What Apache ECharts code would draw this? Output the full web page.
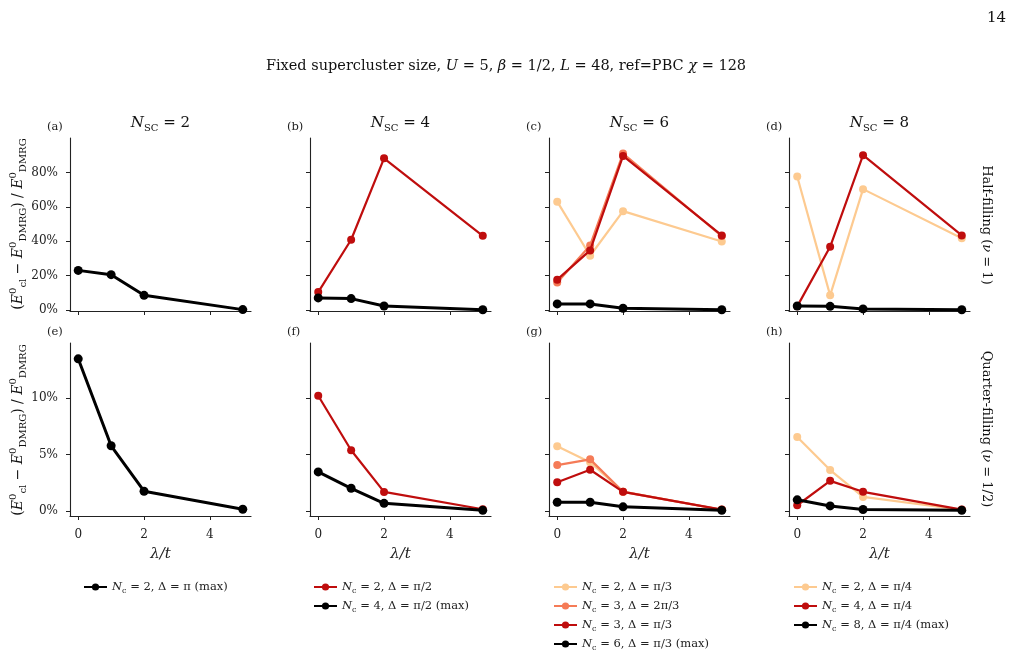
<!DOCTYPE html>
<html>
<head>
<meta charset="utf-8">
<script src="https://cdn.jsdelivr.net/npm/echarts@6/dist/echarts.min.js"></script>
<style>
  html, body { margin: 0; padding: 0; background: #fff; }
  #chart { width: 1013px; height: 657px; }
</style>
</head>
<body>
<div id="chart"></div>
<script>
// ---------------- DATA ----------------
const lambdaValues = [0, 1, 2, 5];
const xTicks = [0, 2, 4];
const yTicksHalf = [0, 20, 40, 60, 80];
const yTicksQuarter = [0, 5, 10];
const colTitleNums = ['2', '4', '6', '8'];
const panelLabels = ['(a)', '(b)', '(c)', '(d)', '(e)', '(f)', '(g)', '(h)'];

// series names per column
const namesCol1 = ['N_c = 2, Δ = π (max)'];
const namesCol2 = ['N_c = 2, Δ = π/2', 'N_c = 4, Δ = π/2 (max)'];
const namesCol3 = ['N_c = 2, Δ = π/3', 'N_c = 3, Δ = 2π/3', 'N_c = 3, Δ = π/3', 'N_c = 6, Δ = π/3 (max)'];
const namesCol4 = ['N_c = 2, Δ = π/4', 'N_c = 4, Δ = π/4', 'N_c = 8, Δ = π/4 (max)'];

// Half-filling (nu = 1), values in %
const halfA_Nc2 = [23.1, 20.6, 8.6, 0.3];
const halfB_Nc2 = [10.5, 40.9, 88.2, 43.2];
const halfB_Nc4 = [7.1, 6.7, 2.4, 0.2];
const halfC_Nc2 = [63.0, 31.6, 57.5, 39.9];
const halfC_Nc3a = [16.1, 37.6, 91.0, 43.0];
const halfC_Nc3b = [17.7, 34.7, 89.6, 43.4];
const halfC_Nc6 = [3.6, 3.6, 1.1, 0.2];
const halfD_Nc2 = [77.6, 8.6, 70.3, 41.8];
const halfD_Nc4 = [2.2, 36.8, 90.0, 43.4];
const halfD_Nc8 = [2.4, 2.2, 0.7, 0.2];

// Quarter-filling (nu = 1/2), values in %
const quarE_Nc2 = [13.45, 5.76, 1.74, 0.15];
const quarF_Nc2 = [10.18, 5.36, 1.68, 0.15];
const quarF_Nc4 = [3.45, 2.0, 0.67, 0.05];
const quarG_Nc2 = [5.71, 4.3, 1.7, 0.1];
const quarG_Nc3a = [4.05, 4.56, 1.69, 0.1];
const quarG_Nc3b = [2.54, 3.64, 1.69, 0.12];
const quarG_Nc6 = [0.77, 0.77, 0.36, 0.05];
const quarH_Nc2 = [6.54, 3.61, 1.24, 0.1];
const quarH_Nc4 = [0.5, 2.66, 1.69, 0.12];
const quarH_Nc8 = [0.98, 0.44, 0.12, 0.05];

// ---------------- STYLE ----------------
const FONT = 'DejaVu Serif';
const C_LIGHT = '#fdca90';
const C_ORANGE = '#f57b57';
const C_RED = '#bf0d0d';
const C_BLACK = '#000000';

const panels = [
  // top row
  [[namesCol1[0], C_BLACK, halfA_Nc2]],
  [[namesCol2[0], C_RED, halfB_Nc2], [namesCol2[1], C_BLACK, halfB_Nc4]],
  [[namesCol3[0], C_LIGHT, halfC_Nc2], [namesCol3[1], C_ORANGE, halfC_Nc3a], [namesCol3[2], C_RED, halfC_Nc3b], [namesCol3[3], C_BLACK, halfC_Nc6]],
  [[namesCol4[0], C_LIGHT, halfD_Nc2], [namesCol4[1], C_RED, halfD_Nc4], [namesCol4[2], C_BLACK, halfD_Nc8]],
  // bottom row
  [[namesCol1[0], C_BLACK, quarE_Nc2]],
  [[namesCol2[0], C_RED, quarF_Nc2], [namesCol2[1], C_BLACK, quarF_Nc4]],
  [[namesCol3[0], C_LIGHT, quarG_Nc2], [namesCol3[1], C_ORANGE, quarG_Nc3a], [namesCol3[2], C_RED, quarG_Nc3b], [namesCol3[3], C_BLACK, quarG_Nc6]],
  [[namesCol4[0], C_LIGHT, quarH_Nc2], [namesCol4[1], C_RED, quarH_Nc4], [namesCol4[2], C_BLACK, quarH_Nc8]]
];

const colLefts = [70, 310, 549, 789];
const gridW = 181;
const rowTops = [138, 343];
const gridH = 173;

const grids = [], xAxes = [], yAxes = [], series = [], graphics = [];
const axisLineStyle = { color: '#222', width: 1.1 };
const tickStyle = { color: '#222', width: 1 };
const labelStyle = { fontFamily: FONT, fontSize: 12, color: '#222' };

for (let i = 0; i < 8; i++) {
  const row = Math.floor(i / 4), col = i % 4;
  grids.push({ left: colLefts[col], top: rowTops[row], width: gridW, height: gridH, containLabel: false });
  xAxes.push({
    type: 'value', gridIndex: i, min: -0.25, max: 5.25,
    axisLine: { show: true, lineStyle: axisLineStyle, onZero: false },
    axisTick: { show: true, length: 4, lineStyle: tickStyle, customValues: xTicks },
    axisLabel: { show: row === 1, customValues: xTicks, margin: 13, ...labelStyle },
    splitLine: { show: false },
    name: row === 1 ? 'λ/t' : '',
    nameLocation: 'middle', nameGap: 31,
    nameTextStyle: { fontFamily: FONT, fontSize: 15, fontStyle: 'italic', color: '#222' }
  });
  const yt = row === 0 ? yTicksHalf : yTicksQuarter;
  yAxes.push({
    type: 'value', gridIndex: i,
    min: row === 0 ? -0.5 : -0.45, max: row === 0 ? 100 : 14.85,
    axisLine: { show: true, lineStyle: axisLineStyle, onZero: false },
    axisTick: { show: true, length: 4, lineStyle: tickStyle, customValues: yt },
    axisLabel: { show: col === 0, customValues: yt, margin: 12, formatter: v => v + '%', ...labelStyle },
    splitLine: { show: false }
  });
  panels[i].forEach((s, k) => {
    const isBlack = s[1] === C_BLACK;
    series.push({
      type: 'line', name: s[0], xAxisIndex: i, yAxisIndex: i,
      data: lambdaValues.map((x, j) => [x, s[2][j]]),
      symbol: 'circle', symbolSize: isBlack ? 9 : 8,
      lineStyle: { color: s[1], width: isBlack ? 3 : 2.2 },
      itemStyle: { color: s[1] },
      clip: false, z: 2 + k, animation: false
    });
  });
  graphics.push({
    type: 'text', x: colLefts[col] - 23, y: row === 0 ? 127 : 332,
    style: { text: panelLabels[i], fontFamily: FONT, fontSize: 11.5, fill: '#222', align: 'left', verticalAlign: 'middle' }
  });
}

const richBase = (size, lh) => {
  const L = lh || size + 6;
  const ss = Math.round(size * 0.68);
  return {
    i: { fontFamily: FONT, fontSize: size, fontStyle: 'italic', lineHeight: L, verticalAlign: 'middle' },
    r: { fontFamily: FONT, fontSize: size, lineHeight: L, verticalAlign: 'middle' },
    s: { fontFamily: FONT, fontSize: ss, lineHeight: ss + 2, verticalAlign: 'bottom' },
    p: { fontFamily: FONT, fontSize: ss, lineHeight: ss + 2, verticalAlign: 'top' }
  };
};

// column titles
colTitleNums.forEach((n, c) => {
  graphics.push({
    type: 'text', x: colLefts[c] + gridW / 2, y: 123,
    style: { text: '{i|N}{s|SC}{r| = ' + n + '}', rich: richBase(15), fontFamily: FONT, fontSize: 15, fill: '#111', align: 'center', verticalAlign: 'middle' }
  });
});

// main title and page number
graphics.push({
  type: 'text', x: 506, y: 66,
  style: { text: '{r|Fixed supercluster size, }{i|U}{r| = 5, }{i|β}{r| = 1/2, }{i|L}{r| = 48, ref=PBC }{i|χ}{r| = 128}', rich: richBase(14.5), fontFamily: FONT, fontSize: 14.5, fill: '#111', align: 'center', verticalAlign: 'middle' }
});
graphics.push({
  type: 'text', x: 1006, y: 18,
  style: { text: '14', fontFamily: FONT, fontSize: 15, fill: '#111', align: 'right', verticalAlign: 'middle' }
});

// y-axis labels
const yName = '{r|(}{i|E}{p|0}{s|cl}{r| − }{i|E}{p|0}{s|DMRG}{r|) / }{i|E}{p|0}{s|DMRG}';
[224, 430].forEach(cy => {
  graphics.push({
    type: 'text', x: 18, y: cy, rotation: Math.PI / 2,
    style: { text: yName, rich: richBase(14), fontFamily: FONT, fontSize: 14, fill: '#111', align: 'center', verticalAlign: 'middle' }
  });
});

// row labels
graphics.push({
  type: 'text', x: 986, y: 225, rotation: -Math.PI / 2,
  style: { text: '{r|Half-filling (}{i|ν}{r| = 1)}', rich: richBase(13), fontFamily: FONT, fontSize: 13, fill: '#111', align: 'center', verticalAlign: 'middle' }
});
graphics.push({
  type: 'text', x: 986, y: 429, rotation: -Math.PI / 2,
  style: { text: '{r|Quarter-filling (}{i|ν}{r| = 1/2)}', rich: richBase(13), fontFamily: FONT, fontSize: 13, fill: '#111', align: 'center', verticalAlign: 'middle' }
});

// legends
const legendRich = richBase(11.5, 16);
const legendFormatter = name => {
  const parts = name.split('N_c');
  return '{i|N}{s|c}{r|' + parts[1] + '}';
};
const legendLefts = [83, 313, 553, 793];
const legendNames = [namesCol1, namesCol2, namesCol3, namesCol4];
const legends = legendNames.map((names, c) => ({
  type: 'plain', orient: 'vertical', left: legendLefts[c], top: 579, padding: 0,
  height: 78,
  itemWidth: 23, itemHeight: 9, itemGap: 3,
  data: names, formatter: legendFormatter, selectedMode: false,
  textStyle: { fontFamily: FONT, fontSize: 11.5, color: '#222', lineHeight: 16, rich: legendRich }
}));

const chart = echarts.init(document.getElementById('chart'), null, { renderer: 'canvas' });
chart.setOption({
  backgroundColor: '#ffffff',
  animation: false,
  grid: grids,
  xAxis: xAxes,
  yAxis: yAxes,
  legend: legends,
  series: series,
  graphic: graphics
});
</script>
</body>
</html>
